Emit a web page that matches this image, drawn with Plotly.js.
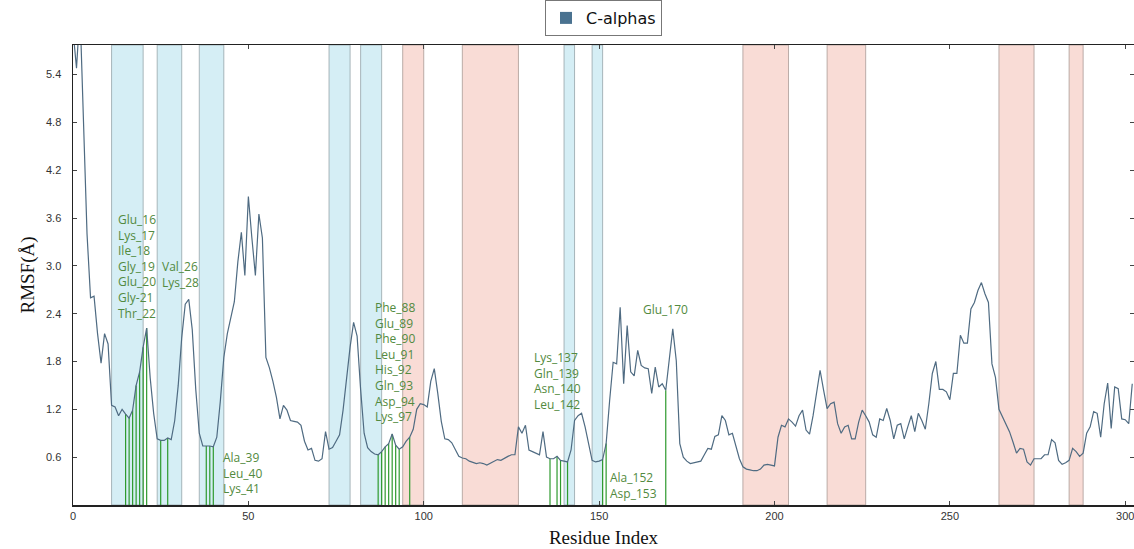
<!DOCTYPE html>
<html>
<head>
<meta charset="utf-8">
<script src="https://cdn.plot.ly/plotly-3.0.1.min.js"></script>
<style>html,body{margin:0;padding:0;background:#fff;}#chart{width:1134px;height:549px;}</style>
</head>
<body>
<div id="chart"></div>
<script>
// RMSF of C-alpha atoms, one value per residue index (0..302)
const rmsf = [
5.95,5.48,6.2,4.9,3.4,2.6,2.62,2.15,1.78,2.15,
2.02,1.25,1.23,1.12,1.20,1.14,1.09,1.19,1.50,1.67,
1.98,2.22,1.60,1.15,0.83,0.81,0.81,0.84,0.82,1.06,
1.50,2.10,2.52,2.58,2.20,1.45,0.90,0.74,0.74,0.74,
0.73,0.85,1.30,1.85,2.15,2.35,2.55,3.05,3.42,2.88,
3.87,3.35,2.88,3.65,3.35,1.85,1.72,1.55,1.35,1.08,
1.25,1.19,1.06,1.05,1.04,1.00,0.80,0.69,0.71,0.56,
0.55,0.58,0.92,0.70,0.72,0.80,0.88,1.19,1.60,1.98,
2.29,2.12,1.45,0.90,0.72,0.67,0.64,0.63,0.67,0.73,
0.77,0.89,0.75,0.70,0.73,0.80,0.85,0.95,1.20,1.27,
1.26,1.23,1.55,1.71,1.40,1.05,0.83,0.82,0.78,0.70,
0.61,0.59,0.58,0.55,0.53,0.52,0.53,0.52,0.50,0.52,
0.55,0.57,0.56,0.59,0.61,0.63,0.63,0.98,0.90,1.00,
0.69,0.67,0.65,0.63,0.92,0.60,0.58,0.58,0.61,0.56,
0.55,0.54,0.69,1.06,1.12,1.15,0.98,0.77,0.56,0.54,
0.55,0.57,0.77,1.31,1.79,1.77,2.48,1.52,2.25,1.67,
1.62,1.94,1.75,1.72,1.71,1.40,1.73,1.48,1.52,1.44,
1.85,2.21,1.81,0.77,0.60,0.55,0.52,0.53,0.54,0.55,
0.63,0.71,0.70,0.86,0.88,1.12,1.06,0.88,0.90,0.75,
0.58,0.48,0.45,0.44,0.43,0.43,0.45,0.50,0.51,0.50,
0.49,0.85,1.00,0.98,1.08,1.04,0.99,1.12,1.19,0.94,
0.89,1.12,1.42,1.69,1.44,1.21,1.27,1.29,1.02,0.90,
0.98,1.00,0.83,0.83,1.04,1.19,1.12,1.04,0.88,0.85,
1.08,1.06,1.21,1.06,0.83,1.00,1.02,0.83,0.98,1.12,
0.92,1.15,1.06,0.95,1.27,1.65,1.80,1.45,1.45,1.42,
1.32,1.65,1.65,2.13,2.03,2.03,2.46,2.54,2.69,2.79,
2.65,2.54,1.77,1.60,1.20,1.10,1.00,0.92,0.79,0.65,
0.71,0.70,0.54,0.50,0.58,0.58,0.58,0.63,0.63,0.82,
0.78,0.56,0.51,0.53,0.56,0.71,0.67,0.61,0.65,0.90,
0.98,1.17,1.15,0.85,1.27,1.53,0.96,1.48,1.46,1.08,
1.07,1.02,1.52
];
const residueIndex = rmsf.map((v, i) => i);

// secondary structure regions (residue index ranges)
const helixSpans  = [[11,20],[24,31],[36,43],[73,79],[82,88],[140,143],[148,151]];
const strandSpans = [[94,100],[111,127],[191,204],[215,226],[264,274],[284,288]];

// highlighted contact residues (residue number, label)
const contactGroups = [
  {labels:["Glu_16","Lys_17","Ile_18","Gly_19","Glu_20","Gly-21","Thr_22"], residues:[16,17,18,19,20,21,22], ax:12.4, ay:2.99},
  {labels:["Val_26","Lys_28"], residues:[26,28], ax:24.7, ay:2.89},
  {labels:["Ala_39","Leu_40","Lys_41"], residues:[39,40,41], ax:42.3, ay:0.40},
  {labels:["Phe_88","Glu_89","Phe_90","Leu_91","His_92","Gln_93","Asp_94","Lys_97"], residues:[88,89,90,91,92,93,94,97], ax:85.6, ay:1.79},
  {labels:["Lys_137","Gln_139","Asn_140","Leu_142"], residues:[137,139,140,142], ax:131.0, ay:1.55},
  {labels:["Ala_152","Asp_153"], residues:[152,153], ax:152.6, ay:0.25},
  {labels:["Glu_170"], residues:[170], ax:162.0, ay:2.45}
];

const xTicks = [0,50,100,150,200,250,300];
const yTicks = [0.6,1.2,1.8,2.4,3.0,3.6,4.2,4.8,5.4];
const yTickText = ["0.6","1.2","1.8","2.4","3.0","3.6","4.2","4.8","5.4"];

const shapes = [];
helixSpans.forEach(s => shapes.push({type:'rect', xref:'x', yref:'paper', x0:s[0], x1:s[1], y0:0, y1:1,
  fillcolor:'#d5eef5', line:{color:'rgba(150,165,170,0.8)', width:1}, layer:'below'}));
strandSpans.forEach(s => shapes.push({type:'rect', xref:'x', yref:'paper', x0:s[0], x1:s[1], y0:0, y1:1,
  fillcolor:'#f9dcd6', line:{color:'rgba(170,155,150,0.8)', width:1}, layer:'below'}));

const gx = [], gy = [];
contactGroups.forEach(g => g.residues.forEach(r => {
  const i = r - 1;
  gx.push(i, i, null); gy.push(0, rmsf[i], null);
}));

const annotations = contactGroups.map(g => ({
  x: g.ax, y: g.ay, xref:'x', yref:'y', xanchor:'left', yanchor:'middle', align:'left',
  text: g.labels.join('<br>'), showarrow:false,
  font:{family:'Open Sans, Noto Sans, sans-serif', size:12, color:'#528a40'}
}));

const traces = [
  {type:'scatter', mode:'lines', x:gx, y:gy, line:{color:'#2e9a2e', width:1.2}, showlegend:false, hoverinfo:'skip'},
  {type:'scatter', mode:'lines', x:residueIndex, y:rmsf, line:{color:'#4f6b82', width:1.2}, showlegend:false, name:'C-alphas'},
  {type:'bar', x:[-100], y:[1], name:'C-alphas', marker:{color:'#4a7290'}, showlegend:true}
];

const layout = {
  width:1134, height:549,
  margin:{l:73, r:0, t:43, b:44},
  paper_bgcolor:'#fff', plot_bgcolor:'#fff',
  showlegend:true,
  legend:{orientation:'h', x:0.5, xanchor:'center', y:1.02, yanchor:'bottom',
    bordercolor:'#777', borderwidth:1, bgcolor:'#fff', itemwidth:30,
    font:{family:'DejaVu Sans, sans-serif', size:16, color:'#111'}},
  xaxis:{range:[0,302.5], tickvals:xTicks, ticktext:xTicks.map(String), ticks:'inside', ticklen:4, tickcolor:'#444',
    showline:true, linecolor:'#222', linewidth:1.5, mirror:'ticks', showgrid:false, zeroline:false,
    ticklabeloverflow:'allow',
    tickfont:{family:'Liberation Sans, Arial, sans-serif', size:11, color:'#333'},
    title:{text:'Residue Index', font:{family:'Liberation Serif, Times New Roman, serif', size:19, color:'#111'}, standoff:10}},
  yaxis:{range:[0,5.77], tickvals:yTicks, ticktext:yTickText, ticks:'inside', ticklen:4, tickcolor:'#444',
    showline:true, linecolor:'#222', linewidth:1.5, mirror:'ticks', showgrid:false, zeroline:false,
    ticklabelstandoff:8,
    tickfont:{family:'Liberation Sans, Arial, sans-serif', size:11, color:'#333'},
    title:{text:'RMSF(Å)', font:{family:'Liberation Serif, Times New Roman, serif', size:19, color:'#111'}, standoff:6}},
  shapes:shapes,
  annotations:annotations
};

Plotly.newPlot('chart', traces, layout, {displayModeBar:false, staticPlot:true});
</script>
</body>
</html>
